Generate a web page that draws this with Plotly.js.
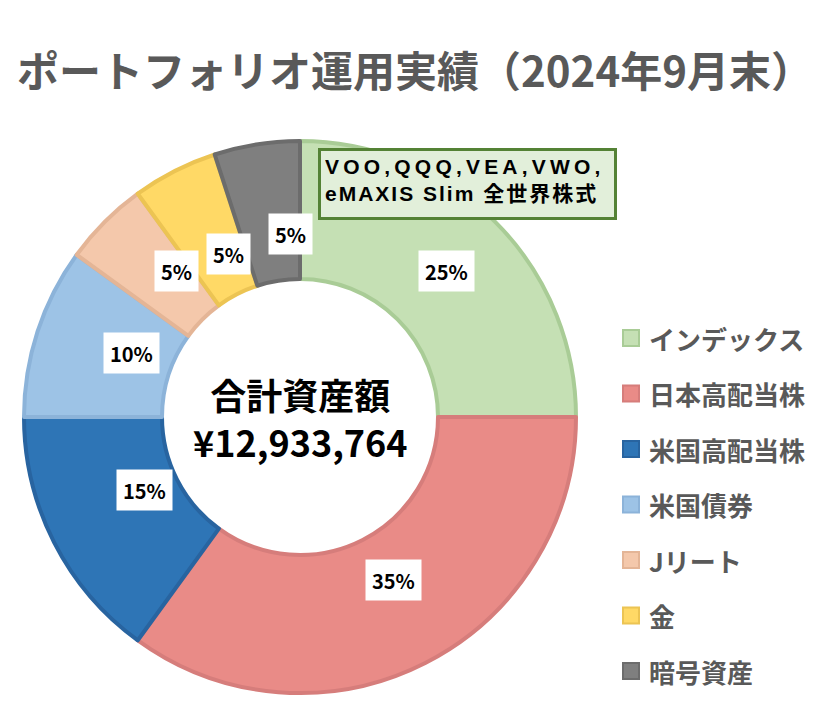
<!DOCTYPE html>
<html>
<head>
<meta charset="utf-8">
<script src="https://cdn.plot.ly/plotly-3.0.1.min.js"></script>
<style>
  html, body { margin: 0; padding: 0; background: #fff; }
  #chart { width: 824px; height: 720px; }
</style>
</head>
<body>
<div id="chart"></div>
<script>
// Portfolio data (2024年9月末)
const categories = ['インデックス', '日本高配当株', '米国高配当株', '米国債券', 'Jリート', '金', '暗号資産'];
const shares = [25, 35, 15, 10, 5, 5, 5];
const sliceColors = ['#c5e0b4', '#e98b87', '#2e75b6', '#9dc3e6', '#f4c8ab', '#ffd966', '#7f7f7f'];
const edgeColors = ['#a9cc96', '#d67d7b', '#2864a0', '#8cb3d9', '#e4b596', '#ecc453', '#6c6c6c'];
const chartTitle = 'ポートフォリオ運用実績（2024年9月末）';
const centerText = ['合計資産額', '¥12,933,764'];
const calloutText = ['VOO,QQQ,VEA,VWO,', 'eMAXIS Slim 全世界株式'];

// Page / pie geometry (pixels)
const W = 824, H = 720;
const cx = 300, cy = 417, R = 276, hole = 0.5;

const font = '"Noto Sans CJK JP", "Noto Sans", sans-serif';

const trace = {
    type: 'pie',
    labels: categories,
    values: shares,
    sort: false,
    direction: 'clockwise',
    rotation: 0,
    hole: hole,
    textinfo: 'none',
    hoverinfo: 'label+percent',
    showlegend: false,
    marker: {
        colors: sliceColors,
        line: { color: edgeColors, width: 4 }
    },
    domain: {
        x: [(cx - R) / W, (cx + R) / W],
        y: [1 - (cy + R) / H, 1 - (cy - R) / H]
    }
};

const annotations = [];
const shapes = [];

// Percent labels in white boxes, placed at the middle of each ring segment
const total = shares.reduce((a, b) => a + b, 0);
const midR = R * (1 + hole) / 2;
let cum = 0;
shares.forEach(function(v) {
    const theta = 2 * Math.PI * (cum + v / 2) / total;
    cum += v;
    annotations.push({
        xref: 'paper', yref: 'paper',
        x: (cx + midR * Math.sin(theta)) / W,
        y: 1 - (cy - midR * Math.cos(theta)) / H,
        text: '<b>' + Math.round(v / total * 100) + '%</b>',
        showarrow: false,
        bgcolor: '#ffffff',
        height: 28,
        borderpad: 6,
        font: { family: font, size: 20, color: '#000000' }
    });
});

// Total in the hole
annotations.push({
    xref: 'paper', yref: 'paper',
    x: cx / W, y: 1 - cy / H,
    text: '<b>' + centerText.join('<br>') + '</b>',
    showarrow: false,
    font: { family: font, size: 36, color: '#000000' }
});

// Callout for the index slice
annotations.push({
    xref: 'paper', yref: 'paper',
    x: 318 / W, y: 1 - 148 / H,
    xanchor: 'left', yanchor: 'top',
    width: 285, height: 58,
    align: 'left', valign: 'top',
    text: '<b><span style="letter-spacing:4.2px">' + calloutText[0] + '</span><br>' +
          '<span style="letter-spacing:2px">' + calloutText[1] + '</span></b>',
    showarrow: false,
    bgcolor: '#e2efda',
    bordercolor: '#548235',
    borderwidth: 3,
    borderpad: 4,
    font: { family: '"Liberation Sans", "Noto Sans CJK JP", sans-serif', size: 21, color: '#000000' }
});

// Legend built by hand so the row spacing matches
const legendX = 623, legendTop = 338, legendStep = 55.5, box = 16;
categories.forEach(function(name, i) {
    const yc = legendTop + i * legendStep;
    shapes.push({
        type: 'rect', xref: 'paper', yref: 'paper',
        x0: legendX / W, x1: (legendX + box) / W,
        y0: 1 - (yc + box / 2) / H, y1: 1 - (yc - box / 2) / H,
        fillcolor: sliceColors[i],
        line: { color: edgeColors[i], width: 2 }
    });
    annotations.push({
        xref: 'paper', yref: 'paper',
        x: (legendX + box + 8) / W, y: 1 - yc / H,
        xanchor: 'left', yanchor: 'middle',
        text: '<b>' + name + '</b>',
        showarrow: false,
        font: { family: font, size: 26, color: '#595959' }
    });
});

const layout = {
    width: W,
    height: H,
    margin: { l: 0, r: 0, t: 0, b: 0 },
    paper_bgcolor: '#ffffff',
    title: {
        text: '<b>' + chartTitle + '</b>',
        x: 0.5 + 3 / W, xanchor: 'center',
        y: 1 - 72 / H, yanchor: 'middle',
        font: { family: font, size: 42, color: '#595959' }
    },
    showlegend: false,
    annotations: annotations,
    shapes: shapes
};

Plotly.newPlot('chart', [trace], layout, { displayModeBar: false, staticPlot: true });
</script>
</body>
</html>
